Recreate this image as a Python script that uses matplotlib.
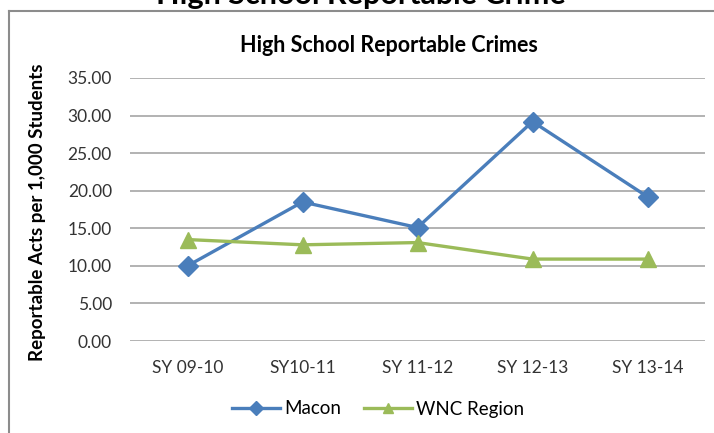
import matplotlib
matplotlib.use("Agg")
import matplotlib.pyplot as plt
from matplotlib.lines import Line2D

# data
years = ["SY 09-10", "SY10-11", "SY 11-12", "SY 12-13", "SY 13-14"]
macon = [10.0, 18.5, 15.1, 29.2, 19.2]
wnc_region = [13.5, 12.8, 13.1, 10.9, 10.9]
y_ticks = [0, 5, 10, 15, 20, 25, 30, 35]

blue = "#4a7ebb"
green = "#9bbb59"

plt.rcParams["font.family"] = ["Lato", "DejaVu Sans"]

fig = plt.figure(figsize=(7.14, 4.33), dpi=100)
ax = fig.add_axes([130 / 714, 1 - 341 / 433, 575 / 714, 263 / 433])

x = range(len(years))
ax.plot(x, macon, color=blue, lw=2.4, marker="D", ms=10, label="Macon")
ax.plot(x, wnc_region, color=green, lw=2.4, marker="^", ms=11, label="WNC Region")

ax.set_xlim(-0.5, len(years) - 0.5)
ax.set_ylim(0, 35)
ax.set_yticks(y_ticks)
ax.set_yticklabels([f"{v:.2f}" for v in y_ticks], fontsize=12.5, color="#333333")
ax.set_xticks(list(x))
ax.set_xticklabels(years, fontsize=12.5, color="#333333")
ax.tick_params(length=0)
ax.tick_params(axis="x", pad=14)
ax.tick_params(axis="y", pad=13)
ax.grid(axis="y", color="#a6a6a6", lw=1.2)
ax.set_axisbelow(True)
for s in ax.spines.values():
    s.set_visible(False)

ax.set_ylabel("Reportable Acts per 1,000 Students", fontsize=13.5, fontweight="bold")
ax.yaxis.set_label_coords(-84 / 575, 0.49)

fig.text(389 / 714, 1 - 45 / 433, "High School Reportable Crimes", ha="center",
         va="center", fontsize=15.5, fontweight="bold")
# page title cut off at the top edge
fig.text(361 / 714, 1 - 4 / 433, "High School Reportable Crime", ha="center",
         va="baseline", fontsize=22, fontweight="bold")

# chart frame (left and top edges are visible)
fig.add_artist(Line2D([9 / 714, 9 / 714], [0, 1 - 11 / 433], color="#8c8c8c", lw=1.5))
fig.add_artist(Line2D([9 / 714, 1], [1 - 11 / 433, 1 - 11 / 433], color="#8c8c8c", lw=1.5))

fig.legend(loc="center", bbox_to_anchor=(378 / 714, 1 - 409 / 433), ncol=2,
           frameon=False, fontsize=13.5, handlelength=2.6, columnspacing=1.2,
           handletextpad=0.2, markerscale=0.7)

fig.savefig("out.png", dpi=100)
